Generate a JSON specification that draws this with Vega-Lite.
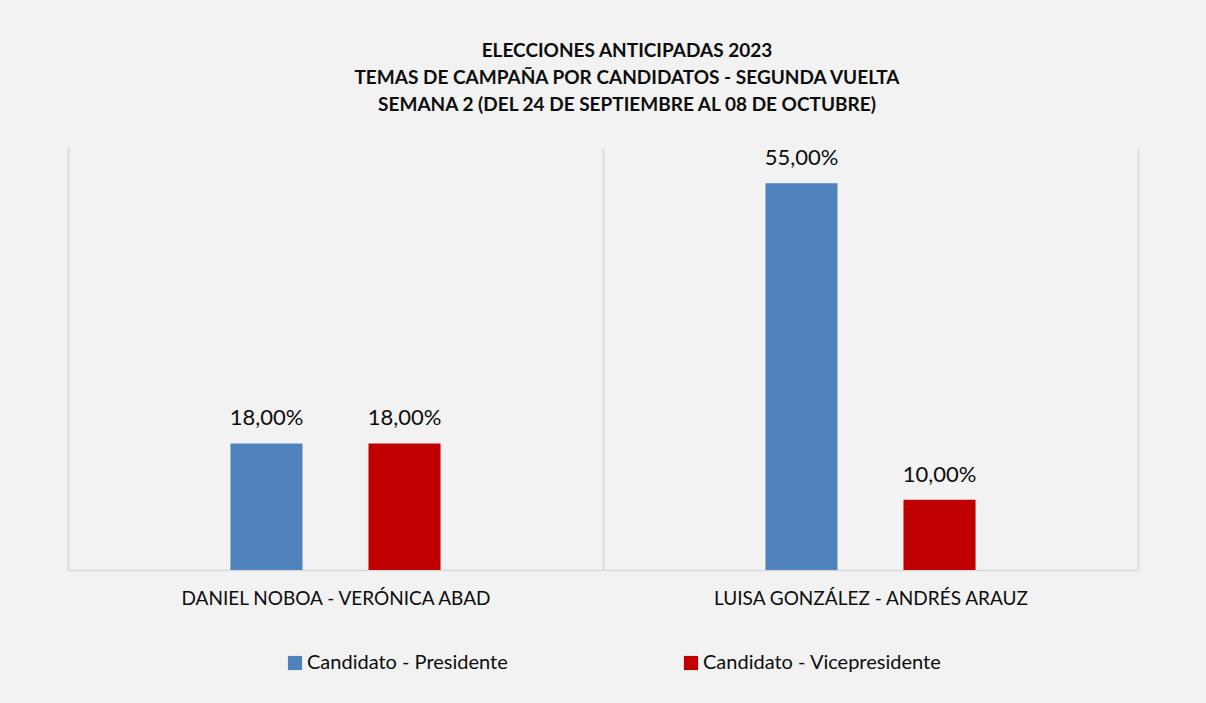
{
  "$schema": "https://vega.github.io/schema/vega-lite/v6.json",
  "width": 1070,
  "height": 422,
  "autosize": "none",
  "padding": {"left": 68, "top": 148, "right": 68, "bottom": 133},
  "background": "#f2f2f2",
  "config": {
    "locale": {"number": {"decimal": ",", "thousands": ".", "grouping": [3], "currency": ["$", ""]}},
    "view": {"stroke": null},
    "font": "Lato"
  },
  "title": {
    "text": ["ELECCIONES ANTICIPADAS 2023", "TEMAS DE CAMPAÑA POR CANDIDATOS - SEGUNDA VUELTA", "SEMANA 2 (DEL 24 DE SEPTIEMBRE AL 08 DE OCTUBRE)"],
    "font": "Lato",
    "fontSize": 19,
    "fontWeight": "bold",
    "color": "#0d0d0d",
    "anchor": "middle",
    "offset": 32,
    "lineHeight": 27,
    "dx": 24
  },
  "data": {
    "values": [
      {"formula": "DANIEL NOBOA - VERÓNICA ABAD", "rol": "Candidato - Presidente", "pct": 0.18},
      {"formula": "DANIEL NOBOA - VERÓNICA ABAD", "rol": "Candidato - Vicepresidente", "pct": 0.18},
      {"formula": "LUISA GONZÁLEZ - ANDRÉS ARAUZ", "rol": "Candidato - Presidente", "pct": 0.55},
      {"formula": "LUISA GONZÁLEZ - ANDRÉS ARAUZ", "rol": "Candidato - Vicepresidente", "pct": 0.10}
    ]
  },
  "encoding": {
    "x": {
      "field": "formula",
      "type": "nominal",
      "sort": null,
      "scale": {"paddingInner": 0, "paddingOuter": 0},
      "axis": {
        "title": null,
        "labelAngle": 0,
        "labelFontSize": 19,
        "labelLimit": 0,
        "labelColor": "#0d0d0d",
        "labelPadding": 19,
        "ticks": false,
        "tickBand": "extent",
        "grid": true,
        "gridColor": "#d9d9d9",
        "gridWidth": 1.5,
        "domainColor": "#d9d9d9",
        "domainWidth": 1.5
      }
    },
    "xOffset": {
      "field": "rol",
      "type": "nominal",
      "sort": null,
      "scale": {"domain": ["_a", "Candidato - Presidente", "Candidato - Vicepresidente", "_b"], "paddingInner": 0.478, "paddingOuter": 0.177}
    },
    "y": {
      "field": "pct",
      "type": "quantitative",
      "scale": {"domain": [0, 0.6], "nice": false},
      "axis": {"labels": false, "ticks": false, "grid": false, "title": null, "domainColor": "#d9d9d9", "domainWidth": 1.5}
    }
  },
  "layer": [
    {
      "mark": {"type": "bar"},
      "encoding": {
        "color": {
          "field": "rol",
          "type": "nominal",
          "sort": null,
          "scale": {"domain": ["Candidato - Presidente", "Candidato - Vicepresidente"], "range": ["#4f81bd", "#c00000"]},
          "legend": {
            "title": null,
            "orient": "none",
            "direction": "horizontal",
            "legendX": 217,
            "legendY": 505,
            "symbolType": "square",
            "symbolSize": 200,
            "symbolStrokeWidth": 0,
            "symbolOpacity": 1,
            "labelFontSize": 20,
            "labelLimit": 0,
            "labelColor": "#0d0d0d",
            "labelOffset": 2,
            "columnPadding": 173
          }
        }
      }
    },
    {
      "mark": {"type": "text", "baseline": "bottom", "dy": -13, "fontSize": 22, "color": "#0d0d0d"},
      "encoding": {"text": {"field": "pct", "type": "quantitative", "format": ".2%"}}
    }
  ]
}
